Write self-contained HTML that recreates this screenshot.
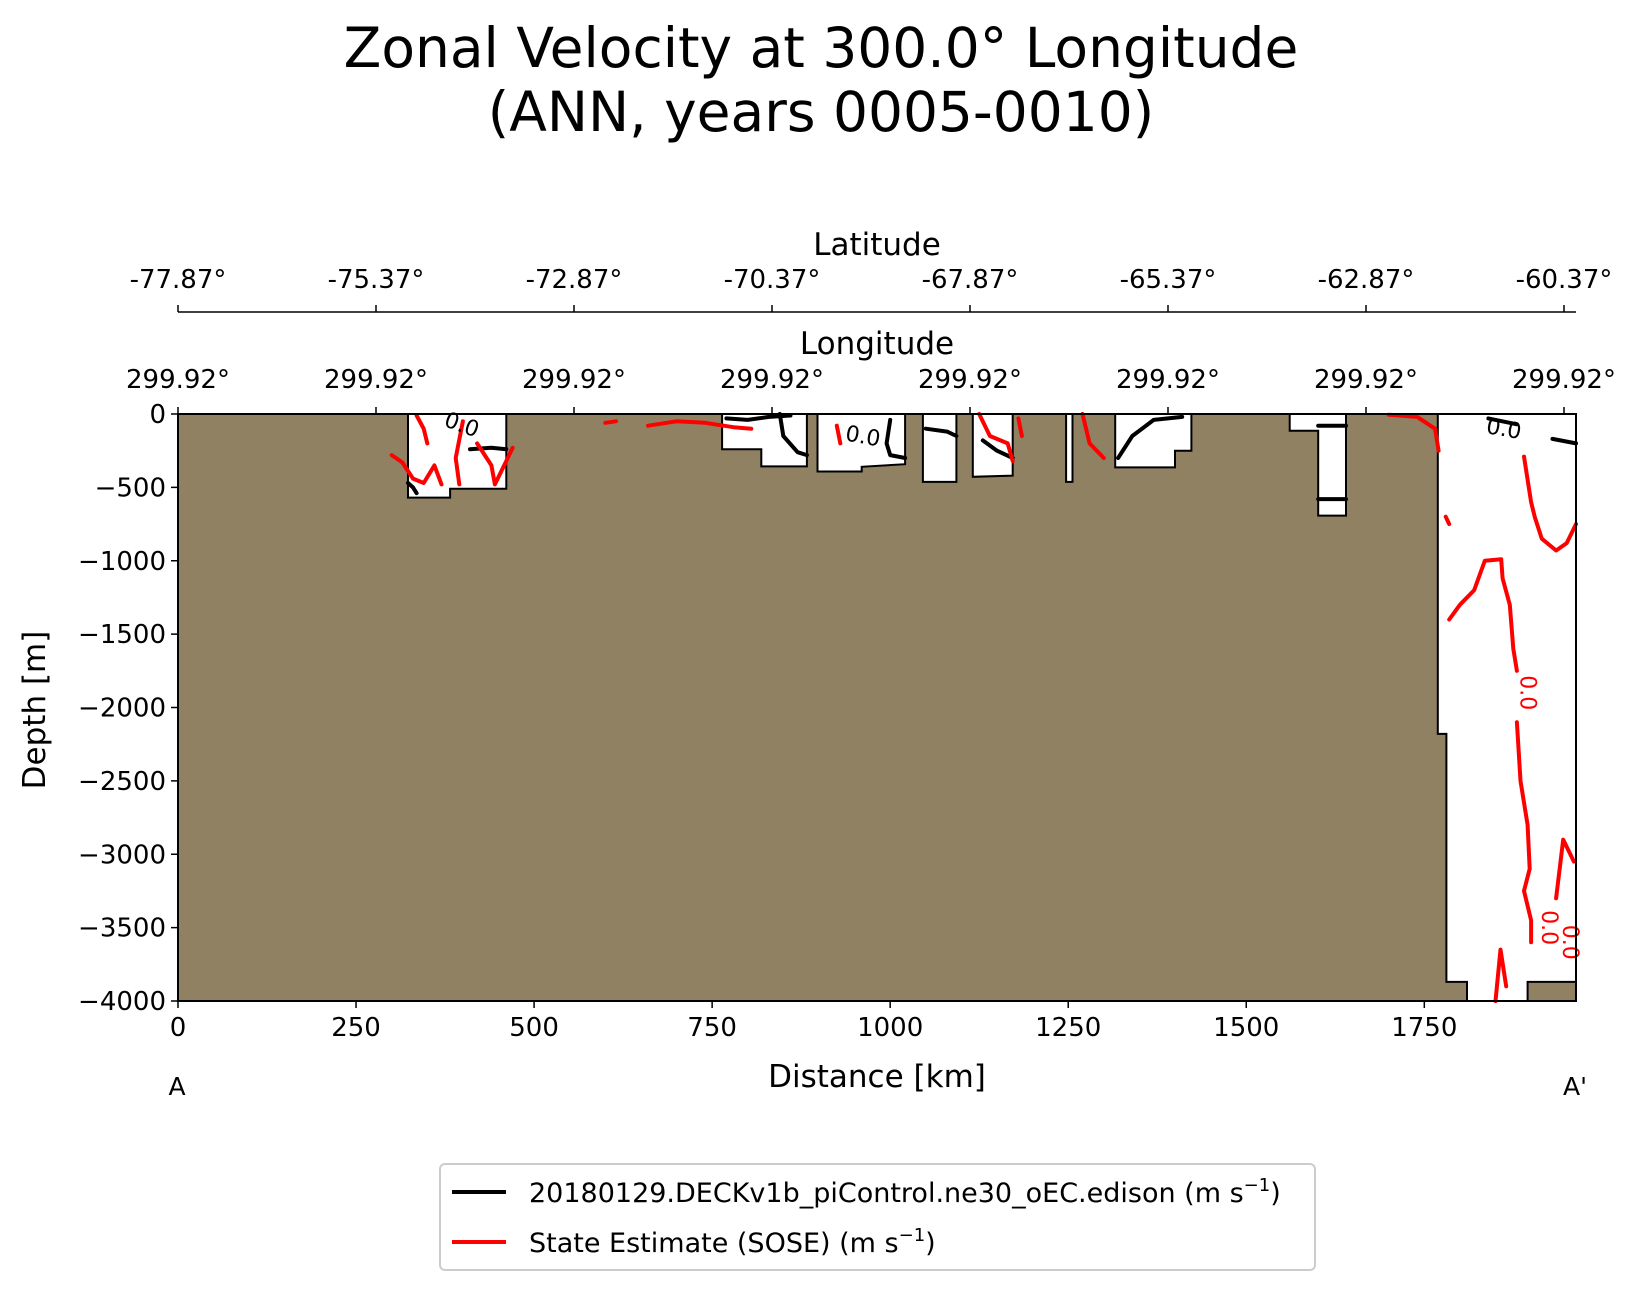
<!DOCTYPE html>
<html><head><meta charset="utf-8"><style>
body{margin:0;background:#fff;}
svg{display:block;font-family:"DejaVu Sans","Liberation Sans",sans-serif;}
</style></head><body>
<svg id="chart" width="1638" height="1289" viewBox="0 0 1638 1289" xmlns="http://www.w3.org/2000/svg">
<text x="821" y="67" font-size="55" text-anchor="middle">Zonal Velocity at 300.0° Longitude</text>
<text x="821" y="131" font-size="55" text-anchor="middle">(ANN, years 0005-0010)</text>
<g id="plot"></g>
<g id="axes"></g>
<g>
<rect x="440" y="1164" width="875" height="106" rx="5" fill="#fff" stroke="#ccc" stroke-width="2"/>
<line x1="452" y1="1192" x2="506" y2="1192" stroke="#000" stroke-width="4"/>
<text x="529" y="1202" font-size="27">20180129.DECKv1b_piControl.ne30_oEC.edison (m s<tspan dy="-11" font-size="18">−1</tspan><tspan dy="11">)</tspan></text>
<line x1="452" y1="1242" x2="506" y2="1242" stroke="#f00" stroke-width="4"/>
<text x="529" y="1252" font-size="27">State Estimate (SOSE) (m s<tspan dy="-11" font-size="18">−1</tspan><tspan dy="11">)</tspan></text>
</g>
</svg>
<script>
// ---- data ----
const xTicks=[0,250,500,750,1000,1250,1500,1750];
const latLabels=["-77.87°","-75.37°","-72.87°","-70.37°","-67.87°","-65.37°","-62.87°","-60.37°"];
const lonLabels=["299.92°","299.92°","299.92°","299.92°","299.92°","299.92°","299.92°","299.92°"];
const yTicks=[0,-500,-1000,-1500,-2000,-2500,-3000,-3500,-4000];
// ocean basins: outline points [km, depth m]
const basin1=[[323,0],[323,-570],[382,-570],[382,-510],[461,-510],[461,0]];
const basin2=[[764,0],[764,-240],[819,-240],[819,-357],[883,-357],[883,0]];
const basin3=[[898,0],[898,-392],[960,-392],[960,-360],[1021,-342],[1021,0]];
const basin4=[[1046,0],[1046,-463],[1093,-463],[1093,0]];
const basin5=[[1116,0],[1116,-428],[1172,-420],[1172,0]];
const basin6=[[1247,0],[1247,-463],[1256,-463],[1256,0]];
const basin7=[[1316,0],[1316,-364],[1400,-364],[1400,-250],[1423,-250],[1423,0]];
const basin8=[[1561,0],[1561,-114],[1601,-114],[1601,-692],[1640,-692],[1640,0]];
const basin9=[[1769,0],[1769,-2180],[1781,-2180],[1781,-3870],[1810,-3870],[1810,-4000],[1895,-4000],[1895,-3870],[1963,-3870],[1963,0]];
const basins=[basin1,basin2,basin3,basin4,basin5,basin6,basin7,basin8,basin9];
// contours (model, black)
const blackLines=[
 [[770,-30],[800,-40],[830,-20],[860,-10]],
 [[845,0],[850,-150],[870,-260],[883,-280]],
 [[1000,-40],[995,-200],[1000,-280],[1021,-300]],
 [[1050,-100],[1080,-120],[1093,-150]],
 [[1130,-180],[1150,-250],[1172,-300]],
 [[1320,-300],[1340,-150],[1370,-40],[1410,-20]],
 [[1601,-80],[1640,-80]],[[1601,-580],[1640,-580]],
 [[1840,-30],[1880,-70]],[[1930,-170],[1963,-200]],
 [[410,-240],[440,-230],[461,-240]],
 [[323,-470],[330,-500],[335,-540]]
];
// contours (SOSE, red)
const redLines=[
 [[300,-280],[315,-330],[330,-440],[345,-470],[360,-350],[370,-480]],
 [[335,-10],[345,-100],[350,-200]],
 [[400,-50],[390,-300],[395,-480]],
 [[420,-200],[440,-350],[445,-480],[470,-230]],
 [[600,-60],[615,-50]],
 [[660,-80],[700,-50],[740,-60],[780,-90],[805,-100]],
 [[925,-80],[930,-200]],
 [[1125,0],[1140,-150],[1165,-200],[1172,-320]],
 [[1180,-30],[1185,-150]],
 [[1270,0],[1280,-200],[1300,-300]],
 [[1700,-5],[1740,-20],[1765,-100],[1770,-250]],
 [[1780,-700],[1785,-750]],
 [[1890,-290],[1900,-600],[1905,-700],[1915,-850],[1935,-930],[1950,-880],[1963,-750]],
 [[1785,-1400],[1800,-1300],[1820,-1200],[1835,-1000],[1858,-990],[1860,-1120],[1870,-1300],[1875,-1600],[1880,-1750]],
 [[1880,-2100],[1885,-2500],[1895,-2800],[1898,-3100],[1890,-3250],[1900,-3450],[1900,-3600]],
 [[1935,-3300],[1945,-2900],[1960,-3050]],
 [[1850,-4000],[1857,-3650],[1865,-3900]]
];
// ---- scales ----
const X0=178,X1=1576,KMMAX=1963,Y0=414,Y1=1001;
const sx=k=>X0+(k/KMMAX)*(X1-X0);
const sy=d=>Y0+(-d/4000)*(Y1-Y0);
const NS="http://www.w3.org/2000/svg";
function mk(tag,attrs,parent){const e=document.createElementNS(NS,tag);for(const k in attrs)e.setAttribute(k,attrs[k]);parent.appendChild(e);return e;}
const plot=document.getElementById('plot'),axes=document.getElementById('axes');
const land=mk('rect',{x:X0,y:Y0,width:X1-X0,height:Y1-Y0,fill:'#918163'},plot);


const pts=a=>a.map(p=>sx(p[0]).toFixed(1)+','+sy(p[1]).toFixed(1)).join(' ');
basins.forEach((b,i)=>{const e=mk('polygon',{points:pts(b),fill:'#fff',stroke:'#000','stroke-width':2},plot);

});
blackLines.forEach(l=>{const e=mk('polyline',{points:pts(l),fill:'none',stroke:'#000','stroke-width':4,'stroke-linejoin':'round','stroke-linecap':'round'},plot);

});
redLines.forEach(l=>{const e=mk('polyline',{points:pts(l),fill:'none',stroke:'#f00','stroke-width':4,'stroke-linejoin':'round','stroke-linecap':'round'},plot);

});
// contour labels
function clab(txt,k,d,col,rot){const x=sx(k),y=sy(d);const e=mk('text',{x:x,y:y,'font-size':22,fill:col,'text-anchor':'middle',transform:'rotate('+rot+' '+x+' '+y+')'},plot);e.textContent=txt;

}
clab('0.0',395,-120,'#000',20);clab('0.0',960,-200,'#000',10);clab('0.0',1860,-150,'#000',10);
clab('0.0',1885,-1900,'#f00',90);clab('0.0',1915,-3500,'#f00',90);clab('0.0',1945,-3600,'#f00',90);
const frame=mk('rect',{x:X0,y:Y0,width:X1-X0,height:Y1-Y0,fill:'none',stroke:'#000','stroke-width':2},axes);


// bottom x ticks
xTicks.forEach(t=>{const x=sx(t);mk('line',{x1:x,y1:Y1,x2:x,y2:Y1+7,stroke:'#000','stroke-width':1.5},axes);
const tx=mk('text',{x:x,y:Y1+35,'font-size':26,'text-anchor':'middle'},axes);tx.textContent=t;

});
yTicks.forEach(t=>{const y=sy(t);mk('line',{x1:X0-7,y1:y,x2:X0,y2:y,stroke:'#000','stroke-width':1.5},axes);
const tx=mk('text',{x:X0-12,y:y+9,'font-size':26,'text-anchor':'end'},axes);tx.textContent=t===0?'0':'−'+(-t);

});
// top lat/lon axes
const LSTEP=198;
mk('line',{x1:X0,y1:312,x2:X1,y2:312,stroke:'#000','stroke-width':1.5},axes);
latLabels.forEach((l,i)=>{const x=X0+i*LSTEP;
mk('line',{x1:x,y1:305,x2:x,y2:312,stroke:'#000','stroke-width':1.5},axes);
mk('line',{x1:x,y1:Y0-7,x2:x,y2:Y0,stroke:'#000','stroke-width':1.5},axes);
const a=mk('text',{x:x,y:288,'font-size':26,'text-anchor':'middle'},axes);a.textContent=l;


const b=mk('text',{x:x,y:388,'font-size':26,'text-anchor':'middle'},axes);b.textContent=lonLabels[i];

});
function label(txt,x,y,size,name,rot){const e=mk('text',{x:x,y:y,'font-size':size,'text-anchor':'middle'},axes);e.textContent=txt;
if(rot)e.setAttribute('transform','rotate(-90 '+x+' '+y+')');

}
label('Latitude',877,255,31,'latitude-axis-title');
label('Longitude',877,354,31,'longitude-axis-title');
label('Distance [km]',877,1087,31,'x-axis-title');
label('Depth [m]',45,710,31,'y-axis-title',true);
label('A',177,1095,25,'section-start-label');
label("A'",1575,1095,25,'section-end-label');
</script>
</body></html>
